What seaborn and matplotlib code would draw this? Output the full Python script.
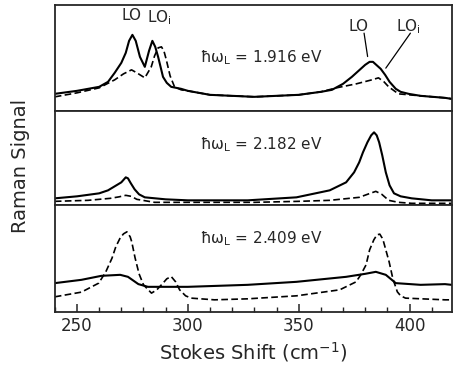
import matplotlib
matplotlib.use('Agg')
import matplotlib.pyplot as plt
from matplotlib.ticker import MultipleLocator
import seaborn as sns

# Spettri Raman (unita' arbitrarie, altezza sopra il fondo del pannello)
# pannello 1: hw_L = 1.916 eV
p1_solid_x = [240, 250, 260, 264, 267, 270, 272, 273.5, 275, 276.5, 278.4, 280.6, 282.5, 284, 285.3, 286.6,
              288.8, 290.5, 292.5, 297, 300, 310, 330, 350, 360, 365, 370, 374, 378, 380, 382, 383.5,
              385, 387, 389, 391, 393.8, 396, 399.6, 405, 416, 419]
p1_solid_y = [17, 20, 24, 29, 38, 48, 58, 70, 76, 70, 54, 44, 60, 70, 64, 54,
              34, 28, 24, 22, 20, 16, 14, 16, 19, 21, 27, 34, 42, 46, 49, 49,
              46, 42, 36, 29, 22, 19, 17, 15, 13, 12]
p1_dash_x = [240, 250, 260, 267, 271, 274.6, 277, 280.6, 283.5, 285, 286.6, 288.1, 289.2, 290.3, 292,
             294, 297, 300, 310, 330, 350, 360, 367, 376, 383, 386, 388.5, 390.6, 395, 400, 405, 416, 419]
p1_dash_y = [14, 18, 23, 31, 37, 41, 38, 33, 44, 55, 63, 64, 60, 51, 35,
             24, 21, 20, 16, 14, 16, 19, 23, 27, 31, 33, 29, 24, 17, 16, 15, 13, 12]

# pannello 2: hw_L = 2.182 eV
p2_solid_x = [240, 250, 260, 264, 267, 270, 271.2, 272, 273, 274.3, 276, 278, 280.6, 290, 300, 327, 349,
              364, 371.4, 375, 377.3, 379, 381, 382.7, 384, 385.2, 386.3, 387.7, 389.3, 391, 393, 396,
              401, 410, 419]
p2_solid_y = [7, 9, 12, 15, 19, 23, 26, 28, 27, 22, 16, 11, 8, 6, 5, 5, 8,
              15, 23, 33, 43, 53, 63, 70, 73, 70, 63, 50, 33, 20, 12, 9,
              7, 5, 5]
p2_dash_x = [240, 255, 265, 269, 272, 274.5, 277, 285, 300, 330, 350, 364, 377.3, 381, 384.8, 387.5,
             390.6, 395, 401, 419]
p2_dash_y = [4, 5, 7, 8.5, 10, 9, 6, 3, 3, 3, 4, 5, 8, 11, 14, 11,
             5, 3, 2, 2]

# pannello 3: hw_L = 2.409 eV
p3_solid_x = [240, 252, 261, 269.5, 273, 277.7, 282, 300, 327, 349, 371.4, 380, 384.8, 389.3, 393.8,
              405, 416, 419]
p3_solid_y = [28.7, 32, 36, 37, 35, 27.7, 25, 25, 27, 30, 35, 38, 40, 37, 28.7,
              27, 27.7, 27]
p3_dash_x = [240, 252, 259.8, 263, 265.8, 267.5, 269.5, 271, 272.5, 274, 274.7, 276.2, 278, 280, 283.6,
             286, 288.8, 290.5, 292.5, 294.5, 296.3, 299, 301.5, 312, 327, 349, 368.5, 375.9, 378,
             380.4, 382, 383.9, 385.3, 386.6, 387.6, 388.3, 390.8, 392.5, 394.5, 396, 398.2, 416, 419]
p3_dash_y = [15, 19.7, 28.7, 40, 53.7, 65, 74, 78, 80, 75, 70, 54, 38, 27, 18.7,
             22, 28.7, 33, 35.3, 30, 22, 16, 13.7, 12, 13, 16, 22, 30, 37,
             47, 62, 72, 77, 77.7, 74, 70, 50, 33, 20, 16, 13.7, 12, 12]

energies = ['1.916', '2.182', '2.409']
panel_tops = [106, 94.5, 106.5]

panels = [
    (p1_solid_x, p1_solid_y, p1_dash_x, p1_dash_y),
    (p2_solid_x, p2_solid_y, p2_dash_x, p2_dash_y),
    (p3_solid_x, p3_solid_y, p3_dash_x, p3_dash_y),
]
label_heights = [53, 60.5, 73]

sns.set_style('ticks')
plt.rcParams['font.family'] = ['DejaVu Sans']
plt.rcParams['mathtext.fontset'] = 'dejavusans'

fig, axes = plt.subplots(3, 1, figsize=(4.53, 3.73), dpi=100, sharex=True,
                         gridspec_kw=dict(height_ratios=panel_tops, hspace=0))
fig.subplots_adjust(left=0.121, right=0.997, top=0.987, bottom=0.164)

for ax, (sx, sy, dx, dy), top, en, lh in zip(axes, panels, panel_tops, energies, label_heights):
    sns.lineplot(x=sx, y=sy, ax=ax, color='black', linewidth=1.5)
    sns.lineplot(x=dx, y=dy, ax=ax, color='black', linewidth=1.2, linestyle=(0, (4, 2)))
    ax.set_xlim(240, 419)
    ax.set_ylim(0, top)
    ax.set_yticks([])
    ax.set_ylabel('')
    for s in ax.spines.values():
        s.set_linewidth(1.3)
    ax.text(305.4, lh, 'ħω$_\\mathrm{L}$ = ' + en + ' eV', fontsize=11, va='center', ha='left')
    ax.tick_params(axis='x', which='both', bottom=False, labelbottom=False)

# etichette dei picchi nel primo pannello
ax1 = axes[0]
ax1.text(274.6, 95, 'LO', fontsize=11, ha='center', va='center')
ax1.text(281.4, 93, r'LO$_\mathrm{i}$', fontsize=11, ha='left', va='center')
ax1.text(377, 84, 'LO', fontsize=11, ha='center', va='center')
ax1.text(393.7, 84, r'LO$_\mathrm{i}$', fontsize=11, ha='left', va='center')
ax1.plot([379.5, 381.1], [77.7, 54.3], color='black', linewidth=0.9)
ax1.plot([400.4, 389.3], [77.7, 42.7], color='black', linewidth=0.9)

ax3 = axes[2]
ax3.tick_params(axis='x', which='both', bottom=True, labelbottom=True, direction='in', labelsize=12)
ax3.tick_params(axis='x', which='major', length=6, width=1.1)
ax3.tick_params(axis='x', which='minor', length=3.5, width=1.0)
ax3.xaxis.set_major_locator(MultipleLocator(50))
ax3.xaxis.set_minor_locator(MultipleLocator(10))
ax3.set_xlabel(r'Stokes Shift (cm$^{-1}$)', fontsize=14)

fig.text(0.045, 0.555, 'Raman Signal', rotation=90, fontsize=14, ha='center', va='center')

plt.savefig('out.png', dpi=100)
